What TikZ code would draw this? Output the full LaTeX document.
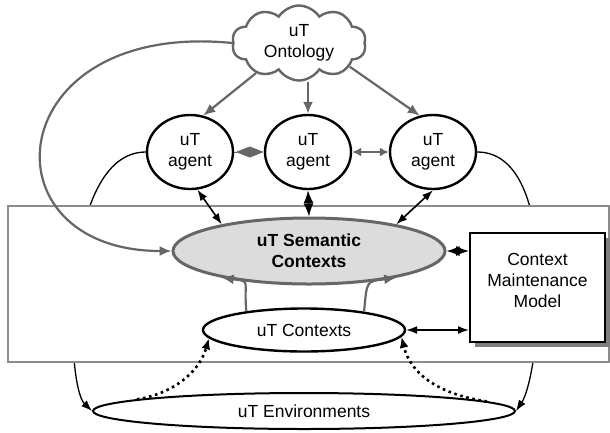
\documentclass[tikz,border=0pt]{standalone}
\usepackage{fontspec}
\setmainfont{Liberation Sans}
\usetikzlibrary{arrows.meta,shapes.geometric,shapes.symbols,shadows,calc}
\definecolor{lineg}{HTML}{666666}
\definecolor{frameg}{HTML}{8C8C8C}
\definecolor{fillg}{HTML}{DCDCDC}
\definecolor{shadowg}{HTML}{7F7F7F}
\tikzset{
  txt/.style={font=\fontsize{17.5}{21}\selectfont, align=center},
  cloudnode/.style={cloud, cloud puffs=10, cloud puff arc=115, aspect=1.75,
    draw=lineg, line width=2.4pt, fill=white, minimum width=134pt, minimum height=75pt,
    inner sep=0pt, txt},
  agentnode/.style={ellipse, draw, line width=2.4pt, fill=white,
    minimum width=86pt, minimum height=74pt, inner sep=0pt, txt},
  semnode/.style={ellipse, draw=lineg, line width=3pt, fill=fillg,
    minimum width=272pt, minimum height=66pt, inner sep=0pt, txt,
    font=\fontsize{17.5}{21}\selectfont\bfseries},
  ctxnode/.style={ellipse, draw, line width=2.4pt, fill=white,
    minimum width=202pt, minimum height=43pt, inner sep=0pt, txt},
  envnode/.style={ellipse, draw, line width=2pt, fill=white,
    minimum width=422pt, minimum height=36pt, inner sep=0pt, txt},
  framebox/.style={rectangle, draw=frameg, line width=1.6pt, fill=white,
    minimum width=601pt, minimum height=156pt, inner sep=0pt},
  cmmbox/.style={rectangle, draw, line width=2pt, fill=white,
    minimum width=135pt, minimum height=109pt, inner sep=0pt,
    drop shadow={shadow xshift=5pt, shadow yshift=-5pt, fill=shadowg, opacity=1}},
  grayarr/.style={draw=lineg, line width=2.2pt, -{Latex[length=12pt,width=10pt]}},
  graydia/.style={draw=lineg, line width=1pt, -{Diamond[length=28pt,width=11pt]}},
  graydbl/.style={draw=lineg, line width=2pt,
    {Latex[length=9pt,width=9pt]}-{Latex[length=9pt,width=9pt]}},
  blkdbl/.style={draw, line width=1.6pt,
    {Latex[length=11pt,width=8pt]}-{Latex[length=11pt,width=8pt]}},
  blkdia/.style={draw, line width=1.6pt,
    {Latex[length=13pt,width=10pt]}-{Latex[length=13pt,width=10pt]}},
  thinarr/.style={draw, line width=1.3pt, -{Latex[length=11pt,width=8pt]}},
  dotarr/.style={draw, line width=2.6pt, dash pattern=on 2.6pt off 3.6pt,
    -{Latex[length=11pt,width=9pt]}},
}
\begin{document}
\begin{tikzpicture}[x=1pt,y=-1pt]
\useasboundingbox (0,0) rectangle (610,432);

% nodes of the upper layer
\node[cloudnode] (onto) at (299,43) {uT\\Ontology};
\node[agentnode] (a1) at (190,152) {uT\\agent};
\node[agentnode] (a2) at (308,152) {uT\\agent};
\node[agentnode] (a3) at (433,152) {uT\\agent};
\node[envnode]   (env) at (304,411) {uT Environments};

% thin links from the outer agents down to the environments (partly hidden by the frame)
\draw[thinarr] (a1.west) .. controls (60,152) and (65,385) .. (env.west);
\draw[thinarr] (a3.east) .. controls (563,152) and (540,375) .. (env.east);

% the frame and its content
\node[framebox] (frame) at (308.5,284) {};
\node[semnode] (sem) at (309,251) {uT Semantic\\Contexts};
\node[ctxnode] (ctx) at (304,330) {uT Contexts};
\node[cmmbox] (cmm) at (537.5,287.5) {};
\node[txt] (cmmtxt) at (537.5,280) {Context\\Maintenance\\Model};

% ontology to agents and to the semantic contexts
\draw[grayarr] (onto.215) -- (a1.70);
\draw[grayarr] (onto.south -| a2.north) -- (a2.north);
\draw[grayarr] (onto.-25) -- (a3.110);
\draw[grayarr] (onto.west) .. controls (0,20) and (-20,251) .. (sem.west);

% agent to agent: a diamond filling the gap, and a double arrow
\draw[graydia] (a1.east) -- (a2.west);
\draw[graydbl] (a2.east) -- (a3.west);

% agents to semantic contexts
\draw[blkdbl] (a1.-79) -- (sem.163);
\draw[blkdia] (a2.south) -- (sem.north);
\draw[blkdbl] (a3.south) -- (sem.17);

% semantic contexts, contexts and the maintenance model
\draw[blkdia] (sem.east) -- (sem.east -| cmm.west);
\draw[blkdbl] (ctx.east) -- (ctx.east -| cmm.west);
\draw[grayarr] (ctx.162) .. controls +(-3,-32) and +(30,4) .. (sem.197);
\draw[grayarr] (ctx.17) .. controls +(3,-32) and +(-30,4) .. (sem.-17);

% environments feeding the contexts
\draw[dotarr] (env.176) .. controls (172,394) and (199,373) .. (ctx.185);
\draw[dotarr] (env.3.7) .. controls (436,394) and (410,372) .. (ctx.-4);
\end{tikzpicture}
\end{document}
